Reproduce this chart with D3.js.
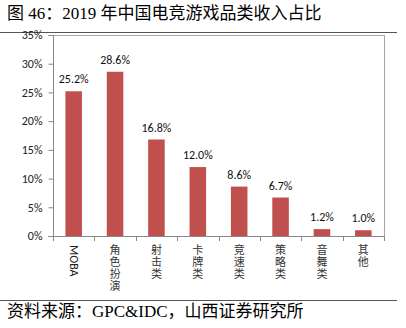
<!DOCTYPE html>
<html><head><meta charset="utf-8">
<script src="https://cdn.jsdelivr.net/npm/d3@7"></script>
<style>
body{margin:0;background:#fff;}
svg{display:block;}
</style></head><body>
<svg id="c" width="406" height="328"></svg>
<script>
const categories = ["MOBA","角色扮演","射击类","卡牌类","竞速类","策略类","音舞类","其他"];
const values = [25.2,28.6,16.8,12.0,8.6,6.7,1.2,1.0];
const yTicks = [0,5,10,15,20,25,30,35];
const title = "图 46：2019 年中国电竞游戏品类收入占比";
const source = "资料来源：GPC&IDC，山西证券研究所";

const svg = d3.select("#c");
const m = {l:53, r:384, t:35, b:236};
const x = d3.scaleBand().domain(categories).range([m.l, m.r]).paddingInner(0.6).paddingOuter(0.3);
const y = d3.scaleLinear().domain([0,35]).range([m.b, m.t]);
const numFont = "Calibri,Carlito,'Liberation Sans',sans-serif";

// title
svg.append("text").attr("x",7).attr("y",19)
  .style("font-family","'Times New Roman','Liberation Serif','Noto Sans CJK SC',serif")
  .style("font-size","17px").attr("fill","#000").text(title);
svg.append("line").attr("x1",0).attr("x2",397).attr("y1",32.5).attr("y2",32.5)
  .attr("stroke","#555").attr("stroke-width",1);

// plot border top and right
svg.append("line").attr("x1",m.l).attr("x2",m.r+0.5).attr("y1",m.t+0.5).attr("y2",m.t+0.5).attr("stroke","#a6a6a6");
svg.append("line").attr("x1",m.r+0.5).attr("x2",m.r+0.5).attr("y1",m.t).attr("y2",m.b).attr("stroke","#a6a6a6");

// bars
svg.selectAll("rect.bar").data(values).join("rect")
  .attr("x",(d,i)=>x(categories[i])).attr("width",x.bandwidth())
  .attr("y",d=>y(d)).attr("height",d=>m.b-y(d)).attr("fill","#C0504D");

// value labels
svg.selectAll("text.val").data(values).join("text")
  .attr("x",(d,i)=>x(categories[i])+x.bandwidth()/2).attr("y",d=>y(d)-8)
  .attr("text-anchor","middle")
  .style("font-family",numFont).style("font-size","12px").attr("fill","#111")
  .text(d=>d.toFixed(1)+"%");

// y axis
const ya = d3.axisLeft(y).tickValues(yTicks).tickSize(5).tickFormat(d=>d+"%");
const yg = svg.append("g").attr("transform",`translate(${m.l+0.5},0)`).call(ya);
yg.select(".domain").attr("stroke","#888").attr("d",`M-5,${m.t+0.5}H0V${m.b+0.5}H-5`);
yg.selectAll(".tick line").attr("stroke","#888");
yg.selectAll(".tick text").attr("x",-11)
  .style("font-family",numFont).style("font-size","12px").attr("fill","#222");

// x axis
const xTickPos = categories.map((c,i)=>m.l + i*(m.r-m.l)/categories.length).concat([m.r]);
const xg = svg.append("g");
xg.append("line").attr("x1",m.l-5).attr("x2",m.r+0.5).attr("y1",m.b+0.5).attr("y2",m.b+0.5).attr("stroke","#888");
xg.selectAll("line.t").data(xTickPos).join("line")
  .attr("x1",d=>Math.round(d)+0.5).attr("x2",d=>Math.round(d)+0.5).attr("y1",m.b).attr("y2",m.b+5).attr("stroke","#888");

categories.forEach(c=>{
  const cx = x(c)+x.bandwidth()/2;
  if (/^[A-Za-z]+$/.test(c)) {
    xg.append("text").attr("transform",`translate(${cx-4},${m.b+9}) rotate(90)`)
      .style("font-family",numFont).style("font-size","12px").attr("fill","#222").text(c);
  } else {
    xg.append("text").attr("x",cx).attr("y",m.b+8)
      .style("writing-mode","vertical-rl").style("text-orientation","upright")
      .style("font-family","'Noto Sans CJK SC',sans-serif").style("font-size","11px").attr("fill","#333")
      .attr("letter-spacing","1px")
      .text(c);
  }
});

// source
svg.append("line").attr("x1",0).attr("x2",397).attr("y1",300.5).attr("y2",300.5).attr("stroke","#555");
svg.append("text").attr("x",7).attr("y",317)
  .style("font-family","'Times New Roman','Liberation Serif','Noto Sans CJK SC',serif")
  .style("font-size","17px").attr("fill","#000").text(source);
</script>
</body></html>
